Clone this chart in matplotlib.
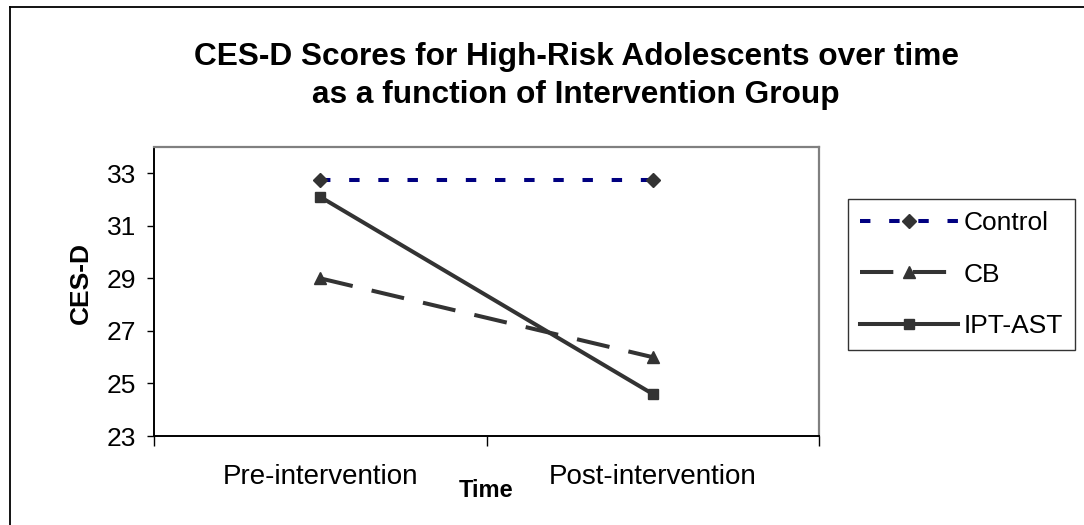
import matplotlib
matplotlib.use('Agg')
import matplotlib.pyplot as plt
from matplotlib.lines import Line2D

plt.rcParams['font.family'] = ['Liberation Sans', 'DejaVu Sans']
plt.rcParams['lines.scale_dashes'] = False

times = ['Pre-intervention', 'Post-intervention']
control = [32.75, 32.75]
cb = [29.0, 26.0]
ipt_ast = [32.1, 24.6]
yticks = [23, 25, 27, 29, 31, 33]

fig = plt.figure(figsize=(10.84, 5.25), dpi=100)
ax = fig.add_axes([154/1084, 1 - 436/525, 665/1084, 289/525])

x = [0, 1]
ax.plot(x, control, color='#000080', lw=2.9, dashes=(7.5, 13.5),
        marker='D', ms=7.5, mfc='#333333', mec='#333333', label='Control', zorder=3)
ax.plot(x, cb, color='#333333', lw=2.9, dashes=(24, 14),
        marker='^', ms=9, mfc='#333333', mec='#333333', label='CB', zorder=3)
ax.plot(x, ipt_ast, color='#333333', lw=2.9, ls='-',
        marker='s', ms=7.5, mfc='#333333', mec='#333333', label='IPT-AST', zorder=3)

ax.set_xlim(-0.5, 1.5)
ax.set_ylim(23, 34)
ax.set_yticks(yticks)
ax.set_yticklabels([str(v) for v in yticks], fontsize=19)
ax.tick_params(axis='y', length=5, width=1, pad=8, direction='out')

# category labels between boundary ticks
ax.set_xticks([-0.5, 0.5, 1.5])
ax.set_xticklabels(['', '', ''])
ax.tick_params(axis='x', length=7, width=1, direction='out')
ax.set_xticks(x, minor=True)
ax.set_xticklabels(times, minor=True, fontsize=20)
ax.tick_params(axis='x', which='minor', length=0, pad=20)

for s in ['top', 'right']:
    ax.spines[s].set_color('#808080')
    ax.spines[s].set_linewidth(1.6)
for s in ['left', 'bottom']:
    ax.spines[s].set_color('black')
    ax.spines[s].set_linewidth(1.4)

ax.set_xlabel('Time', fontsize=17, fontweight='bold')
ax.xaxis.set_label_coords(0.5, -0.15)
ax.set_ylabel('CES-D', fontsize=19, fontweight='bold')
ax.yaxis.set_label_coords(-0.092, 0.53)

fig.text(576/1084, 1 - 76/525,
         'CES-D Scores for High-Risk Adolescents over time\nas a function of Intervention Group',
         ha='center', va='center', fontsize=22.8, fontweight='bold', linespacing=1.35)

leg = fig.legend(loc='upper left', bbox_to_anchor=(848/1084, 1 - 199/525),
                 fontsize=19, handlelength=3.7, labelspacing=1.05,
                 borderpad=0.45, handletextpad=0.25, fancybox=False,
                 frameon=True, borderaxespad=0)
leg.get_frame().set_edgecolor('black')
leg.get_frame().set_linewidth(1.0)

# chart area border (top and left visible)
fig.add_artist(Line2D([10/1084, 1], [1 - 7/525, 1 - 7/525], color='black', lw=1.3,
                      transform=fig.transFigure))
fig.add_artist(Line2D([10/1084, 10/1084], [0, 1 - 7/525], color='black', lw=1.3,
                      transform=fig.transFigure))

plt.savefig('out.png', dpi=100)
